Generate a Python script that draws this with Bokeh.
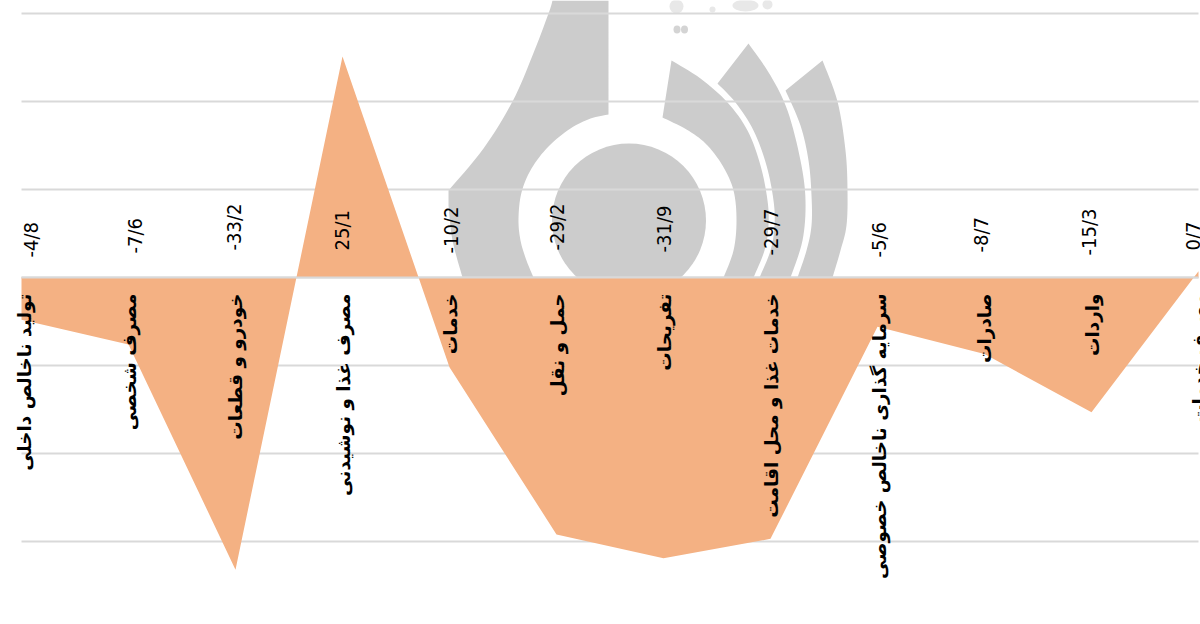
from math import pi
from bokeh.plotting import figure
from bokeh.models import Range1d
from bokeh.core.properties import value
from bokeh.embed import file_html
from bokeh.resources import INLINE

categories = ["تولید ناخالص داخلی", "مصرف شخصی", "خودرو و قطعات", "مصرف غذا و نوشیدنی",
              "خدمات", "حمل و نقل", "تفریحات", "خدمات غذا و محل اقامت",
              "سرمایه گذاری ناخالص خصوصی", "صادرات", "واردات", "مصرف خدمات"]
growth = [-4.8, -7.6, -33.2, 25.1, -10.2, -29.2, -31.9, -29.7, -5.6, -8.7, -15.3, 0.7]
value_labels = ["-4/8", "-7/6", "-33/2", "25/1", "-10/2", "-29/2", "-31/9", "-29/7", "-5/6", "-8/7", "-15/3", "0/7"]
grid_values = [-30, -20, -10, 0, 10, 20, 30]
value_dx = [9, 6, -2, -1, 1, 0, 0, 0, 1, -4, -3, -6]
value_dy = [20, 24, 27, 27, 24, 27, 25, 22, 20, 25, 22, 27]
cat_dx = [3, 1, 0, 1, 1, 1, 1, 1, 2, 0, 1, 1]


def smooth(pts, n=8):
    """Round a decorative outline edge through its points (Catmull-Rom)."""
    out = []
    q = [pts[0]] + list(pts) + [pts[-1]]
    for i in range(1, len(q) - 2):
        p0, p1, p2, p3 = q[i - 1], q[i], q[i + 1], q[i + 2]
        for k in range(n):
            t = k / n
            out.append(tuple(0.5 * (2 * p1[c] + (p2[c] - p0[c]) * t + (2 * p0[c] - 5 * p1[c] + 4 * p2[c] - p3[c]) * t * t
                                    + (3 * p1[c] - p0[c] - 3 * p2[c] + p3[c]) * t ** 3) for c in (0, 1)))
    out.append(pts[-1])
    return out


# decorative watermark outlines, in page pixels (each shape = outer edge + inner edge)
wm_shapes = [
    ([(608, 114), (590, 118), (570, 128), (548, 146), (531, 168), (521, 192), (518, 218), (520, 240), (526, 260), (533, 277)],
     [(462, 277), (452, 240), (448, 205)],
     [(448, 190), (483, 148), (512, 101), (532, 55), (548, 13), (552, 0)],
     [(608, 0), (608, 114)]),
    ([(671, 60), (700, 78), (727, 102), (747, 130), (760, 165), (767, 200), (768, 225), (764, 250), (753, 277)],
     [(723, 277), (733, 250), (736, 220), (733, 190), (722, 165), (705, 143), (686, 129), (662, 117)]),
    ([(748, 43), (770, 75), (787, 110), (800, 160), (805, 200), (802, 240), (790, 277)],
     [(759, 277), (770, 250), (774, 225), (773, 200), (766, 165), (753, 130), (735, 102), (717, 83)]),
    ([(822, 60), (837, 101), (845, 150), (847, 190), (846, 225), (840, 250), (832, 277)],
     [(797, 277), (806, 250), (811, 225), (811, 195), (808, 160), (800, 125), (785, 90)]),
]
wm_smudge_x = [676, 712, 745, 767]
wm_smudge_y = [6, 9, 5, 4]
wm_smudge_w = [14, 6, 26, 10]
wm_smudge_h = [14, 6, 12, 10]

p = figure(width=1200, height=624, output_backend="svg", toolbar_location=None,
           x_range=Range1d(-21 / 107, (1200 - 21) / 107),
           y_range=Range1d(-347 / 8.8, 277 / 8.8),
           x_axis_location=None, y_axis_location=None,
           min_border=0, outline_line_color=None)
p.xgrid.visible = False
p.ygrid.visible = False
p.extra_x_ranges["px"] = Range1d(0, 1200)
p.extra_y_ranges["px"] = Range1d(624, 0)

WM = "#cccccc"
for edges in wm_shapes:
    pts = []
    for e in edges:
        pts += smooth(e)
    p.patch([a for a, _ in pts], [b for _, b in pts], fill_color=WM, line_color=None,
            x_range_name="px", y_range_name="px")
p.ellipse(x=[628.5], y=[220], width=[154], height=[154], fill_color=WM, line_color=None,
          x_range_name="px", y_range_name="px")
p.ellipse(x=[676.5, 684], y=[29, 29], width=[7, 7], height=[8, 8], fill_color="#d4d4d4", line_color=None,
          x_range_name="px", y_range_name="px")
p.ellipse(x=wm_smudge_x, y=wm_smudge_y, width=wm_smudge_w, height=wm_smudge_h, fill_color="#e8e8e8", line_color=None,
          x_range_name="px", y_range_name="px")

idx = list(range(len(growth)))
p.segment(x0=[0] * len(grid_values), x1=[11] * len(grid_values), y0=grid_values, y1=grid_values,
          line_color="#d9d9d9", line_width=2)
p.varea(x=idx, y1=growth, y2=[0] * len(growth), fill_color="#f4b183")
p.segment(x0=[0], x1=[11], y0=[0], y1=[0], line_color="#d9d9d9", line_width=2)

p.text(x=idx, y=[0] * len(idx), text=value_labels, angle=pi / 2, x_offset=value_dx,
       y_offset=[-d for d in value_dy],
       text_align="left", text_baseline="middle", text_color="#000000",
       text_font=value("DejaVu Sans Condensed"), text_font_size="20px")
p.text(x=idx, y=[0] * len(idx), text=categories, angle=pi / 2, x_offset=cat_dx, y_offset=16,
       text_align="right", text_baseline="middle", text_color="#000000",
       text_font=value("DejaVu Sans"), text_font_size="18.4px", text_font_style="bold")

open("out.html", "w").write(file_html(p, INLINE))
